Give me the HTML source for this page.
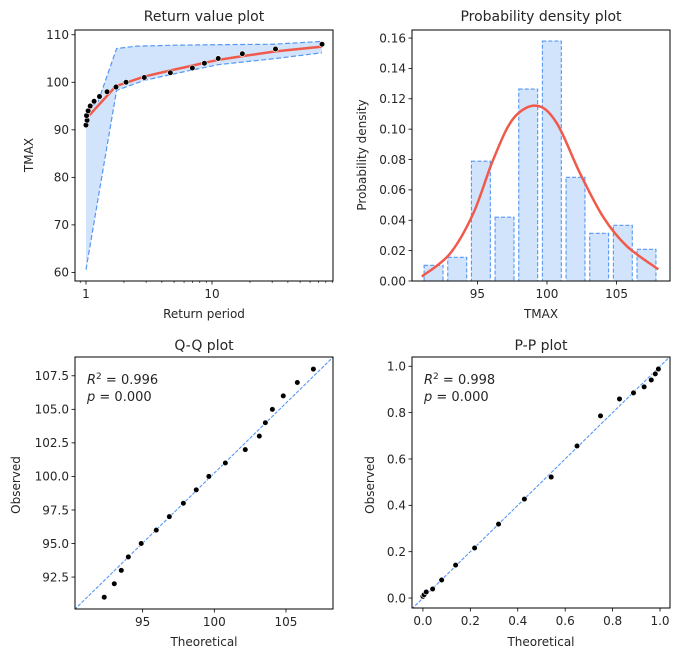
<!DOCTYPE html>
<html><head><meta charset="utf-8">
<style>
html,body{margin:0;padding:0;background:#fff;width:679px;height:659px;overflow:hidden;}
svg{display:block;font-family:"DejaVu Sans","Liberation Sans",sans-serif;}
</style></head>
<body>
<svg id="fig" width="679" height="659" viewBox="0 0 679 659" xmlns="http://www.w3.org/2000/svg"></svg>
<script>
// ---- Return value plot data ----
const rvPeriods = [1.0,1.02,1.01,1.04,1.08,1.16,1.28,1.47,1.73,2.08,2.90,4.67,6.98,8.7,11.2,17.4,31.9,74.6];
const rvObserved = [91,92,93,94,95,96,97,98,99,100,101,102,103,104,105,106,107,108];
const rvModelT = [1.0,1.73,2.08,2.9,4.67,6.98,8.7,11.2,17.4,31.9,74.6];
const rvModel = [92.3,99.2,99.9,101.2,102.5,103.5,104.1,104.7,105.5,106.5,107.5];
const rvUpperT = [1.0,1.25,1.75,2.5,5,10,30,74.6];
const rvUpper = [94.0,96.0,107.1,107.6,107.8,107.9,108.0,108.6];
const rvLowerT = [1.0,1.5,1.75,2.9,6.98,11.2,31.9,74.6];
const rvLower = [60.6,88.0,98.3,100.4,102.6,103.7,105.0,106.2];
const rvYTicks = [60,70,80,90,100,110];
// ---- PDF data ----
const pdfBinStart = 91, pdfBinWidth = 1.7;
const pdfDensity = [0.0103,0.0156,0.0789,0.042,0.1264,0.158,0.0683,0.0314,0.0367,0.0209];
const pdfCurveX = [91.0,93.03,94.71,96.14,97.58,99.26,100.70,102.37,104.05,105.73,108.0];
const pdfCurveY = [0.0029,0.018,0.0446,0.080,0.107,0.1154,0.104,0.071,0.042,0.023,0.0077];
const pdfYTicks = ["0.00","0.02","0.04","0.06","0.08","0.10","0.12","0.14","0.16"];
const pdfXTicks = [95,100,105];
// ---- Q-Q data ----
const qqTheoretical = [92.32,93.02,93.51,94.0,94.9,95.95,96.86,97.84,98.74,99.62,100.77,102.16,103.14,103.56,104.05,104.81,105.79,106.91];
const qqObserved = [91,92,93,94,95,96,97,98,99,100,101,102,103,104,105,106,107,108];
const qqLineSlope = 1.043, qqLineIntercept = -4.05;
const qqYTicks = ["92.5","95.0","97.5","100.0","102.5","105.0","107.5"];
const qqXTicks = [95,100,105];
// ---- P-P data ----
const ppTheoretical = [0.0,0.005,0.014,0.041,0.079,0.138,0.218,0.319,0.428,0.541,0.650,0.749,0.829,0.888,0.933,0.963,0.980,0.993];
const ppObserved = [0.007,0.014,0.026,0.039,0.078,0.142,0.216,0.319,0.427,0.522,0.656,0.786,0.859,0.885,0.911,0.941,0.967,0.988];
const ppTicks = ["0.0","0.2","0.4","0.6","0.8","1.0"];

const NS="http://www.w3.org/2000/svg";
const fig=document.getElementById('fig');
function mk(tag,attrs,parent){const e=document.createElementNS(NS,tag);for(const k in attrs)e.setAttribute(k,attrs[k]);(parent||fig).appendChild(e);return e;}
const BLUE="#5597f5", FILL="#d2e3fc", RED="#f05a4b", TXT="#262626";

function axes(name,x0,y0,x1,y1,xmin,xmax,ymin,ymax,xlog){
  const g=mk('g',{});
  
  
  const fx=xlog?(v=>x0+(Math.log10(v)-Math.log10(xmin))/(Math.log10(xmax)-Math.log10(xmin))*(x1-x0)):(v=>x0+(v-xmin)/(xmax-xmin)*(x1-x0));
  const fy=v=>y1-(v-ymin)/(ymax-ymin)*(y1-y0);
  const id='clip'+name;
  const cp=mk('clipPath',{id:id},g);mk('rect',{x:x0,y:y0,width:x1-x0,height:y1-y0},cp);
  const plot=mk('g',{'clip-path':'url(#'+id+')'},g);
  return {g,plot,fx,fy,x0,y0,x1,y1};
}
function frame(a){
  const r=mk('rect',{x:a.x0,y:a.y0,width:a.x1-a.x0,height:a.y1-a.y0,fill:'none',stroke:'#000','stroke-width':1},a.g);
  
  
}
function xtick(a,v,label,minor){
  const x=a.fx(v);
  mk('line',{x1:x,x2:x,y1:a.y1,y2:a.y1+(minor?2:3.5),stroke:'#000','stroke-width':minor?0.6:0.8},a.g);
  if(label!==null){const t=mk('text',{x:x,y:a.y1+17,'text-anchor':'middle','font-size':12,fill:TXT},a.g);t.textContent=label;
  
  }
}
function ytick(a,v,label){
  const y=a.fy(v);
  mk('line',{x1:a.x0-3.5,x2:a.x0,y1:y,y2:y,stroke:'#000','stroke-width':0.8},a.g);
  const t=mk('text',{x:a.x0-6,y:y+4.3,'text-anchor':'end','font-size':12,fill:TXT},a.g);t.textContent=label;
  
  
}
function text(str,x,y,opts,name){
  const t=mk('text',Object.assign({x:x,y:y,fill:TXT},opts));t.textContent=str;
  
  
  return t;
}
function ylabel(str,x,cy,name){
  const t=mk('text',{x:0,y:0,'font-size':12,fill:TXT,'text-anchor':'middle',transform:'translate('+x+','+cy+') rotate(-90)'});t.textContent=str;
  
  
}
function dot(a,x,y){
  const c=mk('circle',{cx:a.fx(x),cy:a.fy(y),r:2.8,fill:'#000',stroke:'#fff','stroke-width':0.6},a.plot);
  
  
}
function poly(a,xs,ys){return xs.map((x,i)=>a.fx(x).toFixed(2)+','+a.fy(ys[i]).toFixed(2)).join(' ');}
function smoothPath(pts){
  let d='M'+pts[0][0]+','+pts[0][1];
  for(let i=0;i<pts.length-1;i++){
    const p0=pts[Math.max(0,i-1)],p1=pts[i],p2=pts[i+1],p3=pts[Math.min(pts.length-1,i+2)];
    const c1=[p1[0]+(p2[0]-p0[0])/6,p1[1]+(p2[1]-p0[1])/6],c2=[p2[0]-(p3[0]-p1[0])/6,p2[1]-(p3[1]-p1[1])/6];
    d+=' C'+c1[0].toFixed(2)+','+c1[1].toFixed(2)+' '+c2[0].toFixed(2)+','+c2[1].toFixed(2)+' '+p2[0].toFixed(2)+','+p2[1].toFixed(2);
  }
  return d;
}

// ===== Panel 1: return value =====
(function(){
  const a=axes('return-value-plot',75,30,333,281,0.818,91.2,58.2,111,true);
  const up=rvUpperT.map((t,i)=>[a.fx(t),a.fy(rvUpper[i])]);
  const lo=rvLowerT.map((t,i)=>[a.fx(t),a.fy(rvLower[i])]).reverse();
  const f=mk('polygon',{points:up.concat(lo).map(p=>p.join(',')).join(' '),fill:FILL,stroke:'none'},a.plot);
  
  
  const u=mk('polyline',{points:poly(a,rvUpperT,rvUpper),fill:'none',stroke:BLUE,'stroke-width':1.2,'stroke-dasharray':'5,2.5'},a.plot);
  
  
  const l=mk('polyline',{points:poly(a,rvLowerT,rvLower),fill:'none',stroke:BLUE,'stroke-width':1.2,'stroke-dasharray':'5,2.5'},a.plot);
  
  
  const m=mk('polyline',{points:poly(a,rvModelT,rvModel),fill:'none',stroke:RED,'stroke-width':2.5},a.plot);
  
  
  rvPeriods.forEach((t,i)=>dot(a,t,rvObserved[i]));
  frame(a);
  [1,10].forEach(v=>xtick(a,v,String(v),false));
  [0.9,2,3,4,5,6,7,8,9,20,30,40,50,60,70,80,90].forEach(v=>xtick(a,v,null,true));
  rvYTicks.forEach(v=>ytick(a,v,String(v)));
  text('Return value plot',204,21,{'font-size':14,'text-anchor':'middle'},'return-value-title');
  text('Return period',204,318,{'font-size':12,'text-anchor':'middle'},'x-axis-title');
  ylabel('TMAX',33,155,'y-axis-title');
})();

// ===== Panel 2: PDF =====
(function(){
  const a=axes('probability-density-plot',412,30,670,281,90.3,108.84,0,0.1653,false);
  pdfDensity.forEach((d,i)=>{
    const l=pdfBinStart+i*pdfBinWidth+pdfBinWidth*0.1, r=l+pdfBinWidth*0.8;
    const x=a.fx(l),w=a.fx(r)-x,y=a.fy(d),h=a.fy(0)-y;
    const b=mk('rect',{x:x,y:y,width:w,height:h,fill:FILL,stroke:BLUE,'stroke-width':1.1,'stroke-dasharray':'4,2'},a.plot);
    
    
  });
  const pts=pdfCurveX.map((x,i)=>[a.fx(x),a.fy(pdfCurveY[i])]);
  const c=mk('path',{d:smoothPath(pts),fill:'none',stroke:RED,'stroke-width':2.5},a.plot);
  
  
  frame(a);
  pdfXTicks.forEach(v=>xtick(a,v,String(v),false));
  pdfYTicks.forEach(s=>ytick(a,parseFloat(s),s));
  text('Probability density plot',541,21,{'font-size':14,'text-anchor':'middle'},'pdf-title');
  text('TMAX',541,318,{'font-size':12,'text-anchor':'middle'},'x-axis-title');
  ylabel('Probability density',366,155,'y-axis-title');
})();

// ===== Panel 3: Q-Q =====
(function(){
  const a=axes('qq-plot',75,357,333,609,90.28,108.28,90.12,108.9,false);
  const d=mk('line',{x1:a.fx(85),y1:a.fy(85*qqLineSlope+qqLineIntercept),x2:a.fx(115),y2:a.fy(115*qqLineSlope+qqLineIntercept),stroke:BLUE,'stroke-width':1.1,'stroke-dasharray':'3.5,1.5'},a.plot);
  
  
  qqTheoretical.forEach((x,i)=>dot(a,x,qqObserved[i]));
  frame(a);
  qqXTicks.forEach(v=>xtick(a,v,String(v),false));
  qqYTicks.forEach(s=>ytick(a,parseFloat(s),s));
  text('Q-Q plot',204,350,{'font-size':14,'text-anchor':'middle'},'qq-title');
  text('Theoretical',204,646,{'font-size':12,'text-anchor':'middle'},'x-axis-title');
  ylabel('Observed',20,485,'y-axis-title');
  const t1=mk('text',{x:87,y:384,'font-size':13,fill:TXT});t1.innerHTML='<tspan font-style="italic">R</tspan><tspan font-size="9" dy="-5">2</tspan><tspan dy="5"> = 0.996</tspan>';
  
  
  const t2=mk('text',{x:87,y:401,'font-size':13,fill:TXT});t2.innerHTML='<tspan font-style="italic">p</tspan> = 0.000';
  
  
})();

// ===== Panel 4: P-P =====
(function(){
  const a=axes('pp-plot',412,357,670,608,-0.046,1.042,-0.043,1.04,false);
  const d=mk('line',{x1:a.fx(-0.5),y1:a.fy(-0.5),x2:a.fx(1.5),y2:a.fy(1.5),stroke:BLUE,'stroke-width':1.1,'stroke-dasharray':'3.5,1.5'},a.plot);
  
  
  ppTheoretical.forEach((x,i)=>dot(a,x,ppObserved[i]));
  frame(a);
  ppTicks.forEach(s=>xtick(a,parseFloat(s),s,false));
  ppTicks.forEach(s=>ytick(a,parseFloat(s),s));
  text('P-P plot',541,350,{'font-size':14,'text-anchor':'middle'},'pp-title');
  text('Theoretical',541,646,{'font-size':12,'text-anchor':'middle'},'x-axis-title');
  ylabel('Observed',374,485,'y-axis-title');
  const t1=mk('text',{x:424,y:384,'font-size':13,fill:TXT});t1.innerHTML='<tspan font-style="italic">R</tspan><tspan font-size="9" dy="-5">2</tspan><tspan dy="5"> = 0.998</tspan>';
  
  
  const t2=mk('text',{x:424,y:401,'font-size':13,fill:TXT});t2.innerHTML='<tspan font-style="italic">p</tspan> = 0.000';
  
  
})();
</script>
</body></html>
